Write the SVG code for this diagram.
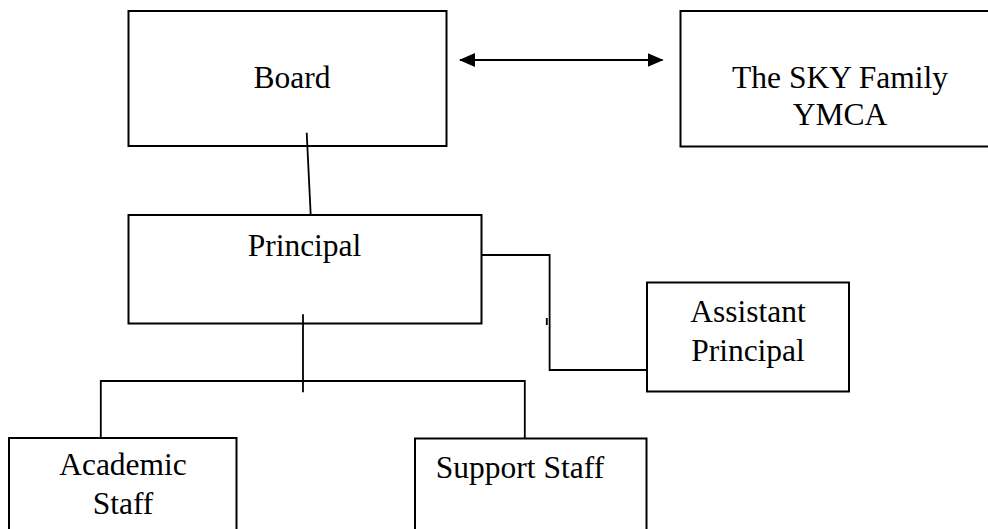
<svg xmlns="http://www.w3.org/2000/svg" width="988" height="529" viewBox="0 0 988 529">
  <style>
    .box { fill: #ffffff; stroke: #000000; stroke-width: 2; }
    .lbl { font-family: "Liberation Serif", "Times New Roman", serif; font-size: 31.5px; fill: #000000; text-anchor: middle; }
    .conn { fill: none; stroke: #000000; stroke-width: 1.8; }
  </style>
  <defs>
    <marker id="arrow" viewBox="0 0 16 14" refX="15" refY="7" markerWidth="16" markerHeight="14" markerUnits="userSpaceOnUse" orient="auto-start-reverse">
      <path d="M0,0 L16,7 L0,14 Z" fill="#000000"/>
    </marker>
  </defs>
  <rect width="988" height="529" fill="#ffffff"/>

  <g id="node-board">
    <rect class="box" x="128.5" y="11" width="318" height="135"/>
    <text class="lbl" x="292" y="88">Board</text>
  </g>
  <g id="node-ymca">
    <rect class="box" x="680.5" y="11" width="320" height="135.5"/>
    <text class="lbl" x="840" y="88">The SKY Family</text>
    <text class="lbl" x="840" y="125">YMCA</text>
  </g>
  <g id="node-principal">
    <rect class="box" x="128.5" y="215" width="353" height="108.5"/>
    <text class="lbl" x="304.5" y="255.5">Principal</text>
  </g>
  <g id="node-assistant">
    <rect class="box" x="647" y="282.5" width="202" height="109"/>
    <text class="lbl" x="748" y="321.5">Assistant</text>
    <text class="lbl" x="748" y="360.5">Principal</text>
  </g>
  <g id="node-academic">
    <rect class="box" x="9" y="438" width="227.5" height="110"/>
    <text class="lbl" x="123" y="475">Academic</text>
    <text class="lbl" x="123" y="514">Staff</text>
  </g>
  <g id="node-support">
    <rect class="box" x="415" y="438.5" width="231.5" height="110"/>
    <text class="lbl" x="520" y="477.5">Support Staff</text>
  </g>

  <g id="connectors">
    <line class="conn" x1="460" y1="60" x2="662.5" y2="60" marker-start="url(#arrow)" marker-end="url(#arrow)"/>
    <line class="conn" x1="306.7" y1="132.7" x2="310.7" y2="215"/>
    <polyline class="conn" points="481.5,255 549.6,255 549.6,370 647,370"/>
    <line class="conn" x1="546.8" y1="318" x2="546.8" y2="325"/>
    <line class="conn" x1="303" y1="314.3" x2="303" y2="392.3"/>
    <polyline class="conn" points="100.8,438 100.8,381 524.8,381 524.8,438.5"/>
  </g>
</svg>
